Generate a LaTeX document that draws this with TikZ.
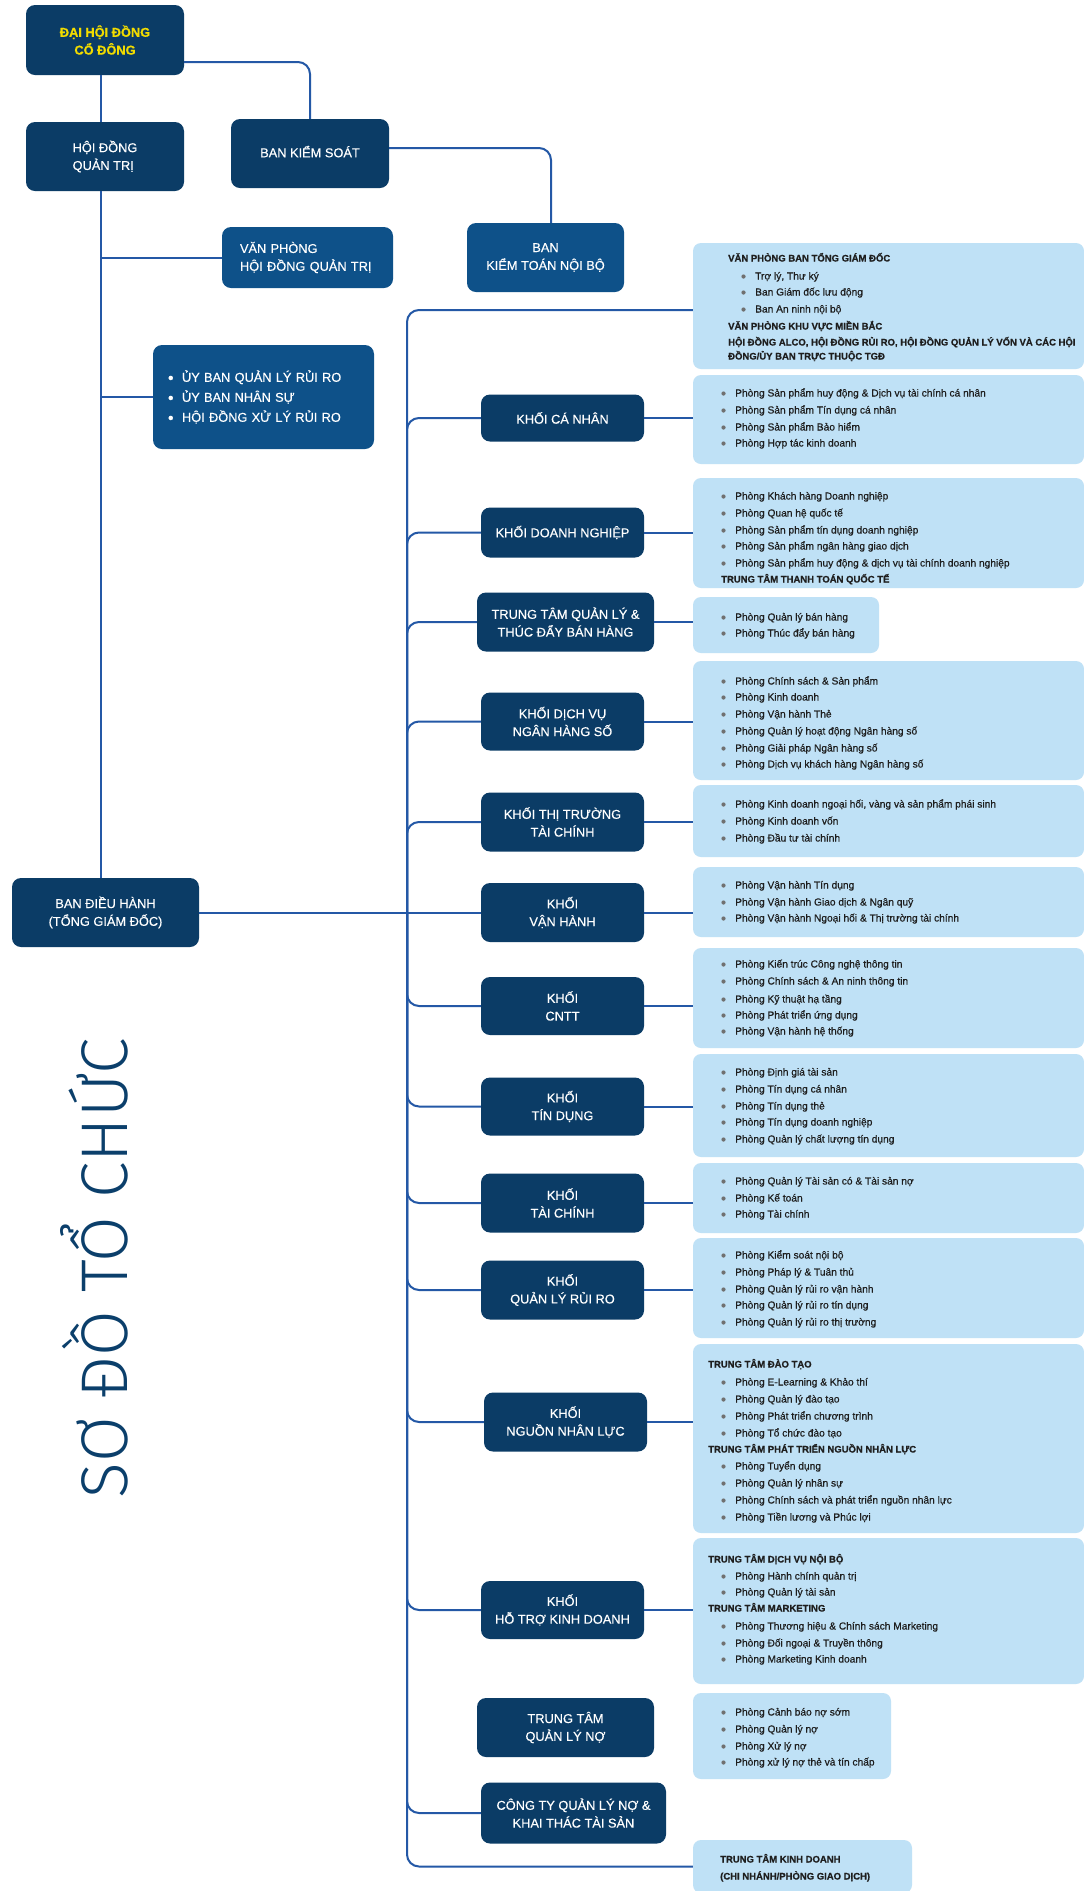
\documentclass[tikz,border=0pt]{standalone}
\usepackage{fontspec}
\setmainfont{Liberation Sans}
\newfontfamily\titlefont{Fira Sans Light}
\newfontfamily\listfont[FakeBold=0.6]{Liberation Sans}
\newfontfamily\headfont[FakeBold=0.8]{Liberation Sans Bold}
\newfontfamily\lblfont[FakeBold=0.3]{Liberation Sans}
\definecolor{navy}{RGB}{11,60,102}
\definecolor{midb}{RGB}{14,81,137}
\definecolor{lightb}{RGB}{191,225,246}
\definecolor{lineb}{RGB}{36,88,166}
\definecolor{yel}{RGB}{242,220,0}
\definecolor{titlec}{RGB}{11,63,107}
\definecolor{listc}{RGB}{30,30,30}
\definecolor{bulc}{RGB}{112,112,112}
\tikzset{
 box/.style={rectangle, rounded corners=9pt, inner sep=0pt, align=center, text=white, font=\lblfont\fontsize{12.8}{17.8}\selectfont},
 dark/.style={box, fill=navy},
 mid/.style={box, fill=midb},
 light/.style={rectangle, rounded corners=8pt, fill=lightb, inner sep=0pt},
 conn/.style={draw=lineb, line width=2pt},
 lt/.style={inner sep=0pt, anchor=base west, text=listc, font=\listfont\fontsize{10.2}{12}\selectfont},
 ht/.style={inner sep=0pt, anchor=base west, text=listc, font=\headfont\fontsize{9.5}{12}\selectfont},
}
\newcounter{ln}
\newcommand\litem[3]{\stepcounter{ln}\fill[bulc] (#1-11.5,#2+0.5) circle[radius=2.1pt]; \node[lt] (l\theln) at (#1,#2+3.5) {#3};}
\newcommand\lhead[3]{\stepcounter{ln}\node[ht] (l\theln) at (#1,#2+3.5) {#3};}
\newcommand\ubul{\makebox[14pt][l]{\raisebox{-1.5pt}{\fontsize{16}{16}\selectfont •}}}
\begin{document}
\begin{tikzpicture}[x=1pt,y=-1pt]
\fill[white] (0,0) rectangle (1084,1891);
\useasboundingbox (0,0) rectangle (1084,1891);

% ---------- left column ----------
\node[dark, minimum width=158pt, minimum height=70pt, text=yel, font=\headfont\fontsize{12.8}{17.8}\selectfont] (dh) at (105,40) {ĐẠI HỘI ĐỒNG\\CỔ ĐÔNG};
\node[dark, minimum width=158pt, minimum height=69pt, align=left] (hd) at (105,156.5) {HỘI ĐỒNG\\QUẢN TRỊ};
\node[dark, minimum width=158pt, minimum height=69pt, text depth=4pt] (bks) at (310,153.5) {BAN KIỂM SOÁT};
\node[mid, minimum width=171pt, minimum height=61pt, text width=135pt, align=left, inner xsep=18pt] (vp) at (307.5,257.5) {VĂN PHÒNG\\HỘI ĐỒNG QUẢN TRỊ};
\node[mid, minimum width=157pt, minimum height=69pt] (kt) at (545.5,257.5) {BAN\\KIỂM TOÁN NỘI BỘ};
\node[mid, minimum width=221pt, minimum height=104pt, text width=191pt, align=left, inner xsep=15pt, font=\lblfont\fontsize{12.8}{20}\selectfont] (ub) at (263.5,397) {\ubul ỦY BAN QUẢN LÝ RỦI RO\\ \ubul ỦY BAN NHÂN SỰ\\ \ubul HỘI ĐỒNG XỬ LÝ RỦI RO};
\node[dark, minimum width=187pt, minimum height=69pt] (bdh) at (105.5,912.5) {BAN ĐIỀU HÀNH\\(TỔNG GIÁM ĐỐC)};

\node[rotate=90, anchor=base, text=titlec, font=\titlefont\fontsize{66}{66}\selectfont, inner sep=0pt] (title) at (127,1268.5) {SƠ ĐỒ TỔ CHỨC};

% ---------- middle column ----------
\node[dark, minimum width=163pt, minimum height=47pt] (kcn) at (562.5,418) {KHỐI CÁ NHÂN};
\node[dark, minimum width=163pt, minimum height=50pt] (kdn) at (562.5,532.5) {KHỐI DOANH NGHIỆP};
\node[dark, minimum width=177pt, minimum height=59pt] (ttql) at (565.5,622) {TRUNG TÂM QUẢN LÝ \&\\THÚC ĐẨY BÁN HÀNG};
\node[dark, minimum width=163pt, minimum height=58pt] (kdv) at (562.5,721.5) {KHỐI DỊCH VỤ\\NGÂN HÀNG SỐ};
\node[dark, minimum width=163pt, minimum height=59pt] (kttt) at (562.5,822) {KHỐI THỊ TRƯỜNG\\TÀI CHÍNH};
\node[dark, minimum width=163pt, minimum height=59pt] (kvh) at (562.5,912.5) {KHỐI\\VẬN HÀNH};
\node[dark, minimum width=163pt, minimum height=58pt] (kcntt) at (562.5,1006) {KHỐI\\CNTT};
\node[dark, minimum width=163pt, minimum height=58pt] (ktd) at (562.5,1106.5) {KHỐI\\TÍN DỤNG};
\node[dark, minimum width=163pt, minimum height=59pt] (ktc) at (562.5,1203) {KHỐI\\TÀI CHÍNH};
\node[dark, minimum width=163pt, minimum height=59pt] (kqlrr) at (562.5,1290) {KHỐI\\QUẢN LÝ RỦI RO};
\node[dark, minimum width=163pt, minimum height=59pt] (knnl) at (565.5,1422) {KHỐI\\NGUỒN NHÂN LỰC};
\node[dark, minimum width=163pt, minimum height=58pt] (khtkd) at (562.5,1610) {KHỐI\\HỖ TRỢ KINH DOANH};
\node[dark, minimum width=177pt, minimum height=59pt] (ttqln) at (565.5,1727.5) {TRUNG TÂM\\QUẢN LÝ NỢ};
\node[dark, minimum width=185pt, minimum height=61pt] (ctqln) at (573.5,1813) {CÔNG TY QUẢN LÝ NỢ \&\\KHAI THÁC TÀI SẢN};

% ---------- light boxes ----------
\node[light, minimum width=391pt, minimum height=126pt] (la) at (888.5,306) {};
\node[light, minimum width=391pt, minimum height=89pt] (lb) at (888.5,419.5) {};
\node[light, minimum width=391pt, minimum height=110pt] (lc) at (888.5,533) {};
\node[light, minimum width=186pt, minimum height=56pt] (ld) at (786,625) {};
\node[light, minimum width=391pt, minimum height=119pt] (le) at (888.5,720.5) {};
\node[light, minimum width=391pt, minimum height=72pt] (lf) at (888.5,821) {};
\node[light, minimum width=391pt, minimum height=70pt] (lg) at (888.5,902) {};
\node[light, minimum width=391pt, minimum height=100pt] (lh) at (888.5,998) {};
\node[light, minimum width=391pt, minimum height=103pt] (li) at (888.5,1105.5) {};
\node[light, minimum width=391pt, minimum height=70pt] (lj) at (888.5,1198) {};
\node[light, minimum width=391pt, minimum height=100pt] (lk) at (888.5,1288) {};
\node[light, minimum width=391pt, minimum height=189pt] (ll) at (888.5,1438.5) {};
\node[light, minimum width=391pt, minimum height=146pt] (lm) at (888.5,1611) {};
\node[light, minimum width=198pt, minimum height=86pt] (lnq) at (792,1736) {};
\node[light, minimum width=219pt, minimum height=53pt] (lo) at (802.5,1866.5) {};

% ---------- list texts ----------
\lhead{728}{258}{VĂN PHÒNG BAN TỔNG GIÁM ĐỐC}
\litem{755}{276}{Trợ lý, Thư ký}
\litem{755}{292}{Ban Giám đốc lưu động}
\litem{755}{309}{Ban An ninh nội bộ}
\lhead{728}{326}{VĂN PHÒNG KHU VỰC MIỀN BẮC}
\lhead{728}{342}{HỘI ĐỒNG ALCO, HỘI ĐỒNG RỦI RO, HỘI ĐỒNG QUẢN LÝ VỐN VÀ CÁC HỘI}
\lhead{728}{356}{ĐỒNG/ỦY BAN TRỰC THUỘC TGĐ}

\litem{735}{393}{Phòng Sản phẩm huy động \& Dịch vụ tài chính cá nhân}
\litem{735}{410}{Phòng Sản phẩm Tín dụng cá nhân}
\litem{735}{427}{Phòng Sản phẩm Bảo hiểm}
\litem{735}{443}{Phòng Hợp tác kinh doanh}

\litem{735}{496}{Phòng Khách hàng Doanh nghiệp}
\litem{735}{513}{Phòng Quan hệ quốc tế}
\litem{735}{530}{Phòng Sản phẩm tín dụng doanh nghiệp}
\litem{735}{546}{Phòng Sản phẩm ngân hàng giao dịch}
\litem{735}{563}{Phòng Sản phẩm huy động \& dịch vụ tài chính doanh nghiệp}
\lhead{721}{579}{TRUNG TÂM THANH TOÁN QUỐC TẾ}

\litem{735}{617}{Phòng Quản lý bán hàng}
\litem{735}{633}{Phòng Thúc đẩy bán hàng}

\litem{735}{681}{Phòng Chính sách \& Sản phẩm}
\litem{735}{697}{Phòng Kinh doanh}
\litem{735}{714}{Phòng Vận hành Thẻ}
\litem{735}{731}{Phòng Quản lý hoạt động Ngân hàng số}
\litem{735}{748}{Phòng Giải pháp Ngân hàng số}
\litem{735}{764}{Phòng Dịch vụ khách hàng Ngân hàng số}

\litem{735}{804}{Phòng Kinh doanh ngoại hối, vàng và sản phẩm phái sinh}
\litem{735}{821}{Phòng Kinh doanh vốn}
\litem{735}{838}{Phòng Đầu tư tài chính}

\litem{735}{885}{Phòng Vận hành Tín dụng}
\litem{735}{902}{Phòng Vận hành Giao dịch \& Ngân quỹ}
\litem{735}{918}{Phòng Vận hành Ngoại hối \& Thị trường tài chính}

\litem{735}{964}{Phòng Kiến trúc Công nghệ thông tin}
\litem{735}{981}{Phòng Chính sách \& An ninh thông tin}
\litem{735}{999}{Phòng Kỹ thuật hạ tầng}
\litem{735}{1015}{Phòng Phát triển ứng dụng}
\litem{735}{1031}{Phòng Vận hành hệ thống}

\litem{735}{1072}{Phòng Định giá tài sản}
\litem{735}{1089}{Phòng Tín dụng cá nhân}
\litem{735}{1106}{Phòng Tín dụng thẻ}
\litem{735}{1122}{Phòng Tín dụng doanh nghiệp}
\litem{735}{1139}{Phòng Quản lý chất lượng tín dụng}

\litem{735}{1181}{Phòng Quản lý Tài sản có \& Tài sản nợ}
\litem{735}{1198}{Phòng Kế toán}
\litem{735}{1214}{Phòng Tài chính}

\litem{735}{1255}{Phòng Kiểm soát nội bộ}
\litem{735}{1272}{Phòng Pháp lý \& Tuân thủ}
\litem{735}{1289}{Phòng Quản lý rủi ro vận hành}
\litem{735}{1305}{Phòng Quản lý rủi ro tín dụng}
\litem{735}{1322}{Phòng Quản lý rủi ro thị trường}

\lhead{708}{1364}{TRUNG TÂM ĐÀO TẠO}
\litem{735}{1382}{Phòng E-Learning \& Khảo thí}
\litem{735}{1399}{Phòng Quản lý đào tạo}
\litem{735}{1416}{Phòng Phát triển chương trình}
\litem{735}{1433}{Phòng Tổ chức đào tạo}
\lhead{708}{1449}{TRUNG TÂM PHÁT TRIỂN NGUỒN NHÂN LỰC}
\litem{735}{1466}{Phòng Tuyển dụng}
\litem{735}{1483}{Phòng Quản lý nhân sự}
\litem{735}{1500}{Phòng Chính sách và phát triển nguồn nhân lực}
\litem{735}{1517}{Phòng Tiền lương và Phúc lợi}

\lhead{708}{1559}{TRUNG TÂM DỊCH VỤ NỘI BỘ}
\litem{735}{1576}{Phòng Hành chính quản trị}
\litem{735}{1592}{Phòng Quản lý tài sản}
\lhead{708}{1608}{TRUNG TÂM MARKETING}
\litem{735}{1626}{Phòng Thương hiệu \& Chính sách Marketing}
\litem{735}{1643}{Phòng Đối ngoại \& Truyền thông}
\litem{735}{1659}{Phòng Marketing Kinh doanh}

\litem{735}{1712}{Phòng Cảnh báo nợ sớm}
\litem{735}{1729}{Phòng Quản lý nợ}
\litem{735}{1746}{Phòng Xử lý nợ}
\litem{735}{1762}{Phòng xử lý nợ thẻ và tín chấp}

\lhead{720}{1859}{TRUNG TÂM KINH DOANH}
\lhead{720}{1876}{(CHI NHÁNH/PHÒNG GIAO DỊCH)}

% ---------- connectors ----------
\draw[conn] ([xshift=-4pt]dh.south) -- ([xshift=-4pt]hd.north);
\draw[conn] ([xshift=-4pt]hd.south) -- ([xshift=-4pt]hd.south |- bdh.north);
\draw[conn] ([xshift=-4pt]hd.south |- vp.west) -- (vp.west);
\draw[conn] ([xshift=-4pt]hd.south |- ub.west) -- (ub.west);
\draw[conn, rounded corners=12pt] ([yshift=-22pt]dh.east) -| (bks.north);
\draw[conn, rounded corners=12pt] ([yshift=5.5pt]bks.east) -| ([xshift=5.5pt]kt.north);

\coordinate (J) at (407,912.5);
\draw[conn] (bdh.east) -- (kvh.west);
\draw[conn, rounded corners=12pt] (J) |- ([yshift=-4pt]la.west);
\draw[conn, rounded corners=12pt] (J) |- (lo.west);
\foreach \c in {kcn,kdn,ttql,kdv,kttt,kcntt,ktd,ktc,kqlrr,knnl,khtkd,ctqln}{
  \draw[conn, rounded corners=12pt] (J) |- (\c.west);
}
\foreach \d/\l in {kcn/lb,kdn/lc,ttql/ld,kdv/le,kttt/lf,kvh/lg,kcntt/lh,ktd/li,ktc/lj,kqlrr/lk,knnl/ll,khtkd/lm}{
  \draw[conn] (\d.east) -- (\d.east -| \l.west);
}
\end{tikzpicture}
\end{document}
